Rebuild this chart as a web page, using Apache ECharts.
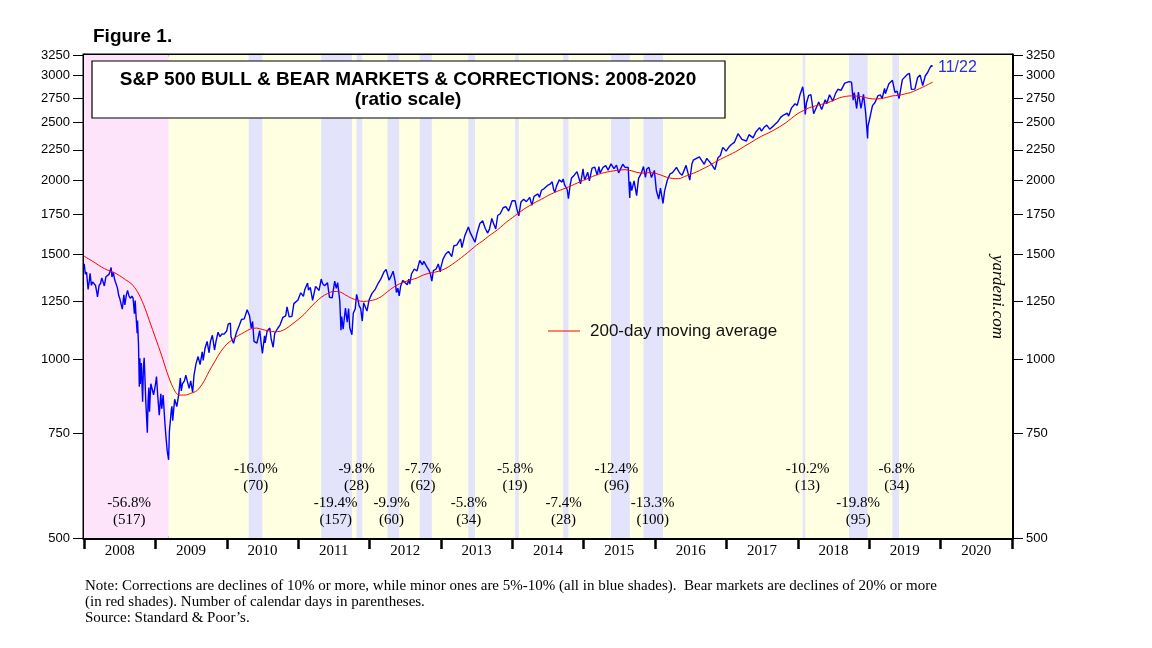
<!DOCTYPE html>
<html><head><meta charset="utf-8">
<script src="https://cdn.jsdelivr.net/npm/echarts@6/dist/echarts.min.js"></script>
<style>html,body{margin:0;padding:0;background:#fff;}#c{width:1152px;height:648px;}</style>
</head><body><div id="c"></div>
<script>
// S&P 500 close (approx.)
const spx = [
["2008-01-02",1447],["2008-01-08",1390],["2008-01-14",1401],["2008-01-22",1310],["2008-01-28",1353],["2008-02-01",1395],["2008-02-08",1331],["2008-02-14",1349],["2008-02-22",1353],["2008-02-29",1330],["2008-03-07",1293],["2008-03-10",1273],["2008-03-18",1330],["2008-03-26",1342],["2008-04-01",1370],["2008-04-08",1366],["2008-04-14",1328],["2008-04-22",1376],["2008-04-30",1385],["2008-05-08",1389],["2008-05-19",1426],["2008-05-23",1375],["2008-05-30",1400],["2008-06-06",1360],["2008-06-13",1360],["2008-06-20",1318],["2008-06-27",1278],["2008-07-03",1262],["2008-07-15",1214],["2008-07-23",1283],["2008-07-28",1234],["2008-08-05",1284],["2008-08-11",1305],["2008-08-18",1278],["2008-08-25",1266],["2008-09-02",1277],["2008-09-08",1267],["2008-09-15",1193],["2008-09-19",1255],["2008-09-23",1188],["2008-09-29",1106],["2008-10-01",1161],["2008-10-06",1056],["2008-10-10",899],["2008-10-13",1003],["2008-10-15",908],["2008-10-20",985],["2008-10-27",848],["2008-10-31",969],["2008-11-04",1005],["2008-11-12",853],["2008-11-20",752],["2008-11-24",852],["2008-11-28",896],["2008-12-01",816],["2008-12-08",909],["2008-12-16",913],["2008-12-22",871],["2008-12-31",903],
["2009-01-06",935],["2009-01-12",871],["2009-01-20",805],["2009-01-28",874],["2009-02-02",825],["2009-02-09",870],["2009-02-17",790],["2009-02-23",743],["2009-03-02",700],["2009-03-09",677],["2009-03-13",756],["2009-03-23",823],["2009-03-26",833],["2009-03-30",788],["2009-04-09",856],["2009-04-20",832],["2009-04-30",873],["2009-05-08",929],["2009-05-13",884],["2009-05-19",909],["2009-05-29",919],["2009-06-05",940],["2009-06-12",946],["2009-06-22",893],["2009-06-30",919],["2009-07-10",879],["2009-07-17",940],["2009-07-27",982],["2009-08-07",1010],["2009-08-17",979],["2009-08-28",1029],["2009-09-02",995],["2009-09-11",1042],["2009-09-22",1071],["2009-10-02",1025],["2009-10-09",1071],["2009-10-19",1097],["2009-10-30",1036],["2009-11-06",1069],["2009-11-17",1110],["2009-11-27",1091],["2009-12-07",1103],["2009-12-18",1102],["2009-12-31",1115],
["2010-01-08",1145],["2010-01-19",1150],["2010-01-22",1092],["2010-02-04",1063],["2010-02-08",1056],["2010-02-19",1109],["2010-03-05",1138],["2010-03-17",1166],["2010-03-31",1169],["2010-04-15",1211],["2010-04-23",1217],["2010-04-27",1183],["2010-05-06",1128],["2010-05-13",1157],["2010-05-20",1071],["2010-05-25",1074],["2010-06-04",1064],["2010-06-18",1117],["2010-06-29",1041],["2010-07-02",1022],["2010-07-13",1095],["2010-07-16",1065],["2010-07-26",1115],["2010-08-09",1128],["2010-08-16",1080],["2010-08-26",1047],["2010-09-03",1105],["2010-09-17",1125],["2010-09-30",1141],["2010-10-15",1176],["2010-10-29",1183],["2010-11-05",1225],["2010-11-16",1178],["2010-11-30",1180],["2010-12-10",1240],["2010-12-31",1258],
["2011-01-14",1293],["2011-01-28",1276],["2011-02-04",1310],["2011-02-18",1343],["2011-02-23",1307],["2011-03-04",1321],["2011-03-16",1256],["2011-03-31",1326],["2011-04-08",1328],["2011-04-18",1305],["2011-04-29",1364],["2011-05-06",1340],["2011-05-16",1329],["2011-05-31",1345],["2011-06-10",1271],["2011-06-15",1265],["2011-06-24",1268],["2011-07-07",1353],["2011-07-15",1316],["2011-07-22",1345],["2011-08-02",1254],["2011-08-08",1119],["2011-08-10",1121],["2011-08-12",1179],["2011-08-19",1123],["2011-08-31",1219],["2011-09-09",1154],["2011-09-16",1216],["2011-09-22",1129],["2011-09-30",1131],["2011-10-03",1099],["2011-10-10",1195],["2011-10-20",1215],["2011-10-27",1285],["2011-11-04",1253],["2011-11-09",1229],["2011-11-17",1216],["2011-11-25",1159],["2011-12-02",1244],["2011-12-19",1205],["2011-12-30",1258],
["2012-01-13",1289],["2012-01-31",1312],["2012-02-15",1343],["2012-02-29",1366],["2012-03-15",1402],["2012-03-26",1416],["2012-04-02",1419],["2012-04-10",1358],["2012-04-20",1378],["2012-05-01",1406],["2012-05-11",1353],["2012-05-18",1295],["2012-05-25",1317],["2012-06-01",1278],["2012-06-08",1325],["2012-06-19",1357],["2012-06-29",1362],["2012-07-12",1334],["2012-07-20",1363],["2012-07-25",1338],["2012-08-03",1391],["2012-08-17",1418],["2012-08-31",1407],["2012-09-14",1466],["2012-09-28",1441],["2012-10-05",1461],["2012-10-19",1433],["2012-10-31",1412],["2012-11-07",1395],["2012-11-15",1353],["2012-11-23",1409],["2012-12-07",1418],["2012-12-18",1446],["2012-12-28",1402],["2012-12-31",1426],
["2013-01-11",1472],["2013-01-25",1503],["2013-02-08",1518],["2013-02-25",1488],["2013-03-08",1552],["2013-03-22",1556],["2013-04-11",1593],["2013-04-18",1541],["2013-05-03",1614],["2013-05-21",1669],["2013-05-31",1631],["2013-06-07",1643],["2013-06-24",1573],["2013-07-05",1632],["2013-07-19",1692],["2013-08-02",1710],["2013-08-15",1661],["2013-08-27",1630],["2013-09-06",1655],["2013-09-18",1725],["2013-09-27",1691],["2013-10-08",1656],["2013-10-18",1745],["2013-10-31",1757],["2013-11-15",1798],["2013-11-29",1806],["2013-12-06",1805],["2013-12-13",1775],["2013-12-31",1848],
["2014-01-15",1848],["2014-01-24",1790],["2014-02-03",1742],["2014-02-14",1838],["2014-02-28",1859],["2014-03-14",1841],["2014-03-31",1872],["2014-04-04",1865],["2014-04-11",1815],["2014-04-22",1879],["2014-04-30",1884],["2014-05-12",1897],["2014-05-20",1872],["2014-05-30",1924],["2014-06-13",1937],["2014-06-30",1960],["2014-07-11",1968],["2014-07-24",1988],["2014-07-31",1931],["2014-08-07",1910],["2014-08-15",1955],["2014-08-29",2003],["2014-09-12",1986],["2014-09-18",2011],["2014-09-25",1966],["2014-10-03",1967],["2014-10-09",1928],["2014-10-15",1862],["2014-10-24",1964],["2014-10-31",2018],["2014-11-14",2040],["2014-11-28",2068],["2014-12-05",2076],["2014-12-16",1973],["2014-12-29",2091],["2014-12-31",2059],
["2015-01-06",2003],["2015-01-15",1992],["2015-01-22",2063],["2015-01-30",1995],["2015-02-13",2097],["2015-02-27",2105],["2015-03-11",2040],["2015-03-20",2108],["2015-03-26",2056],["2015-04-10",2102],["2015-04-24",2117],["2015-05-06",2080],["2015-05-21",2131],["2015-06-05",2092],["2015-06-18",2121],["2015-06-29",2058],["2015-07-08",2046],["2015-07-20",2128],["2015-07-31",2104],["2015-08-17",2102],["2015-08-21",1971],["2015-08-25",1868],["2015-08-28",1989],["2015-09-04",1921],["2015-09-16",1996],["2015-09-29",1884],["2015-10-09",2015],["2015-10-22",2052],["2015-11-03",2109],["2015-11-13",2023],["2015-11-20",2089],["2015-12-01",2103],["2015-12-14",2022],["2015-12-29",2078],["2015-12-31",2044],
["2016-01-08",1922],["2016-01-20",1859],["2016-01-29",1940],["2016-02-11",1829],["2016-02-19",1918],["2016-03-04",2000],["2016-03-18",2050],["2016-03-31",2060],["2016-04-20",2102],["2016-05-06",2057],["2016-05-19",2040],["2016-06-08",2119],["2016-06-27",2001],["2016-07-08",2130],["2016-07-15",2162],["2016-08-15",2190],["2016-09-09",2128],["2016-09-22",2177],["2016-10-14",2133],["2016-11-03",2085],["2016-11-18",2182],["2016-11-30",2199],["2016-12-13",2272],["2016-12-30",2239],
["2017-01-13",2275],["2017-01-26",2297],["2017-02-10",2316],["2017-03-01",2396],["2017-03-21",2344],["2017-04-13",2329],["2017-04-26",2387],["2017-05-17",2357],["2017-05-31",2412],["2017-06-19",2453],["2017-06-29",2419],["2017-07-14",2459],["2017-07-26",2477],["2017-08-10",2438],["2017-08-18",2426],["2017-08-31",2472],["2017-09-19",2506],["2017-10-05",2552],["2017-10-20",2575],["2017-11-08",2594],["2017-11-15",2565],["2017-11-30",2648],["2017-12-18",2690],["2017-12-29",2674],
["2018-01-12",2786],["2018-01-26",2873],["2018-02-02",2762],["2018-02-08",2581],["2018-02-14",2699],["2018-02-26",2780],["2018-03-09",2786],["2018-03-23",2588],["2018-04-02",2582],["2018-04-18",2708],["2018-05-03",2630],["2018-05-21",2733],["2018-05-29",2690],["2018-06-12",2786],["2018-06-29",2718],["2018-07-13",2801],["2018-07-25",2846],["2018-08-10",2833],["2018-08-29",2914],["2018-09-20",2931],["2018-10-03",2925],["2018-10-11",2728],["2018-10-17",2809],["2018-10-29",2641],["2018-11-07",2814],["2018-11-20",2642],["2018-11-23",2633],["2018-12-03",2790],["2018-12-14",2600],["2018-12-24",2351],["2018-12-26",2467],["2018-12-31",2507],
["2019-01-10",2597],["2019-01-18",2671],["2019-01-31",2704],["2019-02-15",2776],["2019-02-28",2784],["2019-03-08",2743],["2019-03-21",2855],["2019-03-25",2798],["2019-04-12",2907],["2019-04-30",2946],["2019-05-13",2812],["2019-05-24",2826],["2019-06-03",2744],["2019-06-20",2954],["2019-06-28",2942],["2019-07-15",3014],["2019-07-26",3026],["2019-08-05",2845],["2019-08-15",2848],["2019-08-23",2847],["2019-09-06",2979],["2019-09-19",3006],["2019-10-02",2887],["2019-10-15",2996],["2019-10-28",3040],["2019-11-08",3093],["2019-11-15",3120],["2019-11-22",3110]
];
// 200-day moving average (approx.)
const ma200 = [
["2008-01-02",1490],["2008-02-01",1470],["2008-03-01",1450],["2008-04-01",1428],["2008-05-01",1412],["2008-06-01",1400],["2008-07-01",1382],["2008-08-01",1360],["2008-09-01",1338],["2008-10-01",1298],["2008-11-01",1235],["2008-12-01",1160],
["2009-01-01",1085],["2009-02-01",1015],["2009-03-01",950],["2009-04-01",895],["2009-05-01",870],["2009-06-01",870],["2009-07-01",876],["2009-08-01",885],["2009-09-01",912],["2009-10-01",952],["2009-11-01",992],["2009-12-01",1030],
["2010-01-01",1060],["2010-02-01",1080],["2010-03-01",1096],["2010-04-01",1110],["2010-05-01",1124],["2010-06-01",1128],["2010-07-01",1122],["2010-08-01",1116],["2010-09-01",1112],["2010-10-01",1114],["2010-11-01",1126],["2010-12-01",1145],
["2011-01-01",1166],["2011-02-01",1190],["2011-03-01",1218],["2011-04-01",1248],["2011-05-01",1272],["2011-06-01",1290],["2011-07-01",1300],["2011-08-01",1298],["2011-09-01",1282],["2011-10-01",1266],["2011-11-01",1256],["2011-12-01",1250],
["2012-01-01",1254],["2012-02-01",1260],["2012-03-01",1274],["2012-04-01",1298],["2012-05-01",1320],["2012-06-01",1338],["2012-07-01",1350],["2012-08-01",1360],["2012-09-01",1370],["2012-10-01",1385],["2012-11-01",1395],["2012-12-01",1401],
["2013-01-01",1410],["2013-02-01",1425],["2013-03-01",1445],["2013-04-01",1470],["2013-05-01",1496],["2013-06-01",1525],["2013-07-01",1555],["2013-08-01",1580],["2013-09-01",1610],["2013-10-01",1636],["2013-11-01",1666],["2013-12-01",1700],
["2014-01-01",1730],["2014-02-01",1760],["2014-03-01",1788],["2014-04-01",1814],["2014-05-01",1838],["2014-06-01",1860],["2014-07-01",1884],["2014-08-01",1905],["2014-09-01",1924],["2014-10-01",1940],["2014-11-01",1960],["2014-12-01",1980],
["2015-01-01",2000],["2015-02-01",2020],["2015-03-01",2038],["2015-04-01",2054],["2015-05-01",2065],["2015-06-01",2074],["2015-07-01",2080],["2015-08-01",2084],["2015-09-01",2076],["2015-10-01",2062],["2015-11-01",2056],["2015-12-01",2060],
["2016-01-01",2056],["2016-02-01",2040],["2016-03-01",2024],["2016-04-01",2014],["2016-05-01",2012],["2016-06-01",2030],["2016-07-01",2046],["2016-08-01",2066],["2016-09-01",2090],["2016-10-01",2114],["2016-11-01",2143],["2016-12-01",2170],
["2017-01-01",2195],["2017-02-01",2220],["2017-03-01",2246],["2017-04-01",2280],["2017-05-01",2310],["2017-06-01",2344],["2017-07-01",2374],["2017-08-01",2400],["2017-09-01",2430],["2017-10-01",2462],["2017-11-01",2500],["2017-12-01",2545],
["2018-01-01",2590],["2018-02-01",2622],["2018-03-01",2650],["2018-04-01",2668],["2018-05-01",2684],["2018-06-01",2700],["2018-07-01",2724],["2018-08-01",2752],["2018-09-01",2768],["2018-10-01",2774],["2018-11-01",2771],["2018-12-01",2762],
["2019-01-01",2746],["2019-02-01",2740],["2019-03-01",2745],["2019-04-01",2758],["2019-05-01",2774],["2019-06-01",2780],["2019-07-01",2794],["2019-08-01",2810],["2019-09-01",2838],["2019-10-01",2868],["2019-11-01",2902],["2019-11-22",2925]
];
// market phases
const bearPeriods = [["2008-01-01","2009-03-09"]];
const bullPeriods = [["2009-03-09","2021-01-01"]];
const corrections = [
["2010-04-23","2010-07-02"],["2011-04-29","2011-10-03"],["2011-10-27","2011-11-25"],["2012-04-02","2012-06-01"],["2012-09-14","2012-11-15"],["2013-05-21","2013-06-24"],["2014-01-15","2014-02-03"],["2014-09-18","2014-10-15"],["2015-05-21","2015-08-25"],["2015-11-03","2016-02-11"],["2018-01-26","2018-02-08"],["2018-09-20","2018-12-24"],["2019-04-30","2019-06-03"]
];
// annotations: anchor date, % decline, days, row (1 = upper, 2 = lower)
const annoDates = ["2008-08-19","2010-05-29","2011-07-12","2011-10-27","2012-04-23","2012-10-01","2013-05-23","2014-01-15","2014-09-20","2015-06-18","2015-12-20","2018-02-20","2018-11-06","2019-05-22"];
const annoPct = ["-56.8%","-16.0%","-19.4%","-9.8%","-9.9%","-7.7%","-5.8%","-5.8%","-7.4%","-12.4%","-13.3%","-10.2%","-19.8%","-6.8%"];
const annoDays = [517,70,157,28,60,62,34,19,28,96,100,13,95,34];
const annoRow = [2,1,2,1,2,1,2,1,2,1,2,1,2,1];
const yTicks = [500,750,1000,1250,1500,1750,2000,2250,2500,2750,3000,3250];
const years = [2008,2009,2010,2011,2012,2013,2014,2015,2016,2017,2018,2019,2020];

const ts = s => new Date(s + "T00:00:00").getTime();
const yearTicks = years.concat([2021]).map(y => ts(y + "-01-01"));
const yearLabels = years.map(y => ts(y + "-07-02"));

const chart = echarts.init(document.getElementById('c'), null, {renderer: 'canvas'});
const serif = 'Liberation Serif, Times New Roman, serif';
const sans = 'Liberation Sans, Arial, sans-serif';

const yAxisCommon = {
  type: 'log', logBase: 10, min: 500, max: 3250,
  axisLine: {show: true, lineStyle: {color: '#000', width: 3}},
  axisTick: {show: true, length: 11, lineStyle: {color: '#000', width: 1}, customValues: yTicks},
  axisLabel: {color: '#000', fontFamily: sans, fontSize: 13, margin: 14, customValues: yTicks, formatter: v => String(Math.round(v))},
  splitLine: {show: false}, minorTick: {show: false}
};

const markData = [];
bullPeriods.forEach(p => markData.push([{xAxis: ts(p[0]), itemStyle: {color: '#ffffe2'}}, {xAxis: ts(p[1])}]));
bearPeriods.forEach(p => markData.push([{xAxis: ts(p[0]), itemStyle: {color: '#fde4fb'}}, {xAxis: ts(p[1])}]));
corrections.forEach(p => markData.push([{xAxis: ts(p[0]), itemStyle: {color: '#e3e3fb'}}, {xAxis: ts(p[1])}]));

const annoData = annoDates.map((d, i) => ({
  value: [ts(d), 500],
  label: {distance: annoRow[i] === 1 ? 43 : 9},
  name: annoPct[i] + '\n(' + annoDays[i] + ')'
}));

chart.setOption({
  animation: false,
  backgroundColor: '#fff',
  grid: {left: 84, right: 140, top: 55, bottom: 110, show: true, borderColor: '#000', borderWidth: 3, backgroundColor: 'transparent'},
  xAxis: {
    type: 'value', min: ts('2008-01-01'), max: ts('2021-01-01'),
    axisLine: {show: true, lineStyle: {color: '#000', width: 3}},
    axisTick: {show: true, length: 11, lineStyle: {color: '#000', width: 2.5}, customValues: yearTicks},
    axisLabel: {color: '#000', fontFamily: serif, fontSize: 15, margin: 6, customValues: yearLabels,
      formatter: v => String(new Date(v).getFullYear())},
    splitLine: {show: false}
  },
  yAxis: [Object.assign({position: 'left'}, yAxisCommon), Object.assign({position: 'right'}, yAxisCommon)],
  series: [
    {
      name: 'bands', type: 'line', data: [], silent: true, z: 1,
      markArea: {silent: true, data: markData, label: {show: false}}
    },
    {
      name: 'S&P 500', type: 'line', data: spx.map(d => [ts(d[0]), d[1]]),
      showSymbol: false, symbol: 'none', z: 3,
      lineStyle: {color: '#0000ff', width: 1.4}
    },
    {
      name: '200-day moving average', type: 'line', data: ma200.map(d => [ts(d[0]), d[1]]),
      showSymbol: false, symbol: 'none', smooth: 0.3, z: 4,
      lineStyle: {color: '#ff0000', width: 1}
    },
    {
      name: 'annotations', type: 'scatter', data: annoData, symbolSize: 0, silent: true, z: 5,
      itemStyle: {opacity: 1},
      label: {show: true, position: 'top', formatter: p => p.name, color: '#000', opacity: 1, fontFamily: serif, fontSize: 15, lineHeight: 17, align: 'center'}
    }
  ],
  graphic: [
    {type: 'text', left: 93, top: 27, style: {text: 'Figure 1.', font: 'bold 19px ' + sans, fill: '#000'}},
    {type: 'rect', shape: {x: 92, y: 61, width: 633, height: 57}, style: {fill: '#fff', stroke: '#000', lineWidth: 1.2}, z: 10},
    {type: 'text', x: 408, y: 80, style: {text: 'S&P 500 BULL & BEAR MARKETS & CORRECTIONS: 2008-2020', font: 'bold 19px ' + sans, fill: '#000', align: 'center', verticalAlign: 'middle'}, z: 11},
    {type: 'text', x: 408, y: 100, style: {text: '(ratio scale)', font: 'bold 19px ' + sans, fill: '#000', align: 'center', verticalAlign: 'middle'}, z: 11},
    {type: 'text', x: 938, y: 68, style: {text: '11/22', font: '16px ' + sans, fill: '#2a2af0', verticalAlign: 'middle'}, z: 11},
    {type: 'text', x: 997, y: 297, rotation: -Math.PI / 2, style: {text: 'yardeni.com', font: 'italic 17px ' + serif, fill: '#000', align: 'center', verticalAlign: 'middle'}, z: 11},
    {type: 'line', shape: {x1: 548, y1: 331, x2: 580, y2: 331}, style: {stroke: '#ff0000', lineWidth: 1}, z: 11},
    {type: 'text', x: 590, y: 331, style: {text: '200-day moving average', font: '17px ' + sans, fill: '#111', verticalAlign: 'middle'}, z: 11},
    {type: 'text', x: 85, y: 578, style: {text: 'Note: Corrections are declines of 10% or more, while minor ones are 5%-10% (all in blue shades).  Bear markets are declines of 20% or more\n(in red shades). Number of calendar days in parentheses.\nSource: Standard & Poor\u2019s.', font: '15px ' + serif, fill: '#000', lineHeight: 16}, z: 11}
  ]
});
</script></body></html>
